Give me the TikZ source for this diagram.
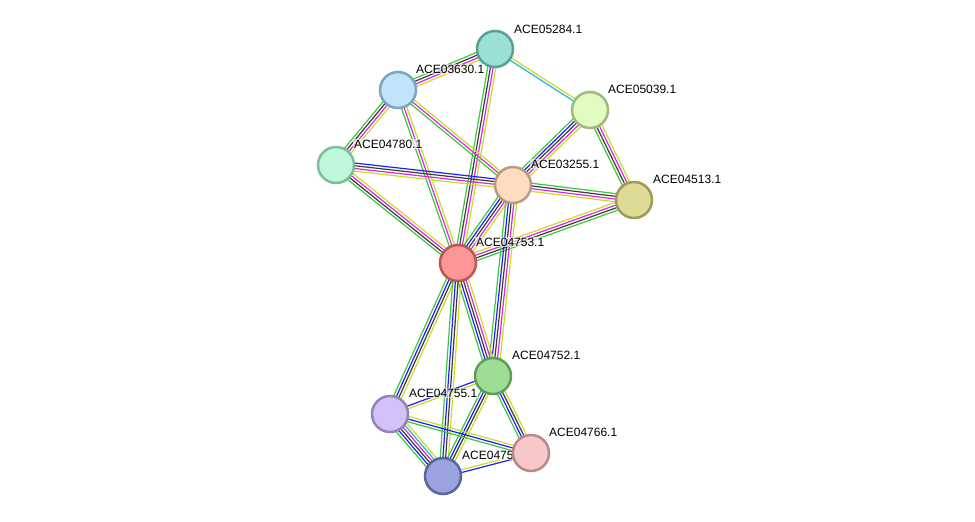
\documentclass[tikz,border=0pt]{standalone}
\usepackage{fontspec}
\newfontfamily\lblfont{Liberation Sans}
\usetikzlibrary{calc}

% evidence colours
\definecolor{neigh}{RGB}{60,200,60}
\definecolor{cooc}{RGB}{30,30,250}
\definecolor{coexp}{RGB}{60,60,60}
\definecolor{expt}{RGB}{220,40,220}
\definecolor{dbase}{RGB}{40,180,220}
\definecolor{tmine}{RGB}{200,220,40}

% one link = parallel lines, one per evidence colour
\newcommand{\evlink}[3]{%
  \xdef\nlines{0}%
  \foreach \c in {#3}{\xdef\nlines{\the\numexpr\nlines+1\relax}}%
  \foreach \c [count=\i] in {#3}{%
    \pgfmathsetmacro\off{(\i-(\nlines+1)/2)*2.7}%
    \draw[evidence, \c] ($(#1)!\off pt!90:(#2)$) -- ($(#2)!\off pt!-90:(#1)$);
  }%
}

\begin{document}
\begin{tikzpicture}[
    x=1pt, y=-1pt,
    prot/.style={circle, line width=2.5pt, minimum size=36pt, inner sep=0pt},
    evidence/.style={line width=1.2pt},
    lbl/.style={font=\lblfont\fontsize{12}{14}\selectfont, anchor=base west,
        fill=white, fill opacity=0.6, text opacity=1, inner sep=1pt}
]
\useasboundingbox[fill=white] (0,0) rectangle (975,522);

% -------------------------
% Proteins (positions only, drawn later on top)
% -------------------------
\coordinate (n05284) at (495,49);
\coordinate (n03630) at (398,90);
\coordinate (n05039) at (590,110);
\coordinate (n04780) at (336,165);
\coordinate (n03255) at (513,185);
\coordinate (n04513) at (634,200);
\coordinate (n04753) at (458,263);
\coordinate (n04752) at (493,376);
\coordinate (n04755) at (390,414);
\coordinate (n0475b) at (443,476);
\coordinate (n04766) at (531,453);

% -------------------------
% Links
% -------------------------
\evlink{n05284}{n03630}{neigh,coexp,expt,tmine}
\evlink{n05284}{n05039}{dbase,tmine}
\evlink{n05284}{n04753}{neigh,coexp,expt,tmine}
\evlink{n03630}{n04780}{neigh,coexp,expt,tmine}
\evlink{n03630}{n03255}{neigh,expt,tmine}
\evlink{n03630}{n04753}{neigh,expt,tmine}
\evlink{n04780}{n03255}{tmine,expt,coexp,cooc}
\evlink{n04780}{n04753}{neigh,coexp,expt,tmine}
\evlink{n05039}{n03255}{neigh,cooc,coexp,expt,tmine}
\evlink{n05039}{n04513}{neigh,coexp,expt,tmine}
\evlink{n03255}{n04513}{tmine,expt,coexp,neigh}
\evlink{n04513}{n04753}{tmine,expt,coexp,neigh}
\evlink{n03255}{n04753}{neigh,cooc,coexp,expt,tmine}
\evlink{n03255}{n04752}{neigh,cooc,coexp,expt,tmine}
\evlink{n04753}{n04752}{neigh,cooc,coexp,expt,tmine}
\evlink{n04753}{n04755}{neigh,cooc,coexp,tmine}
\evlink{n04753}{n0475b}{neigh,cooc,coexp,tmine}
\evlink{n04752}{n04755}{cooc,tmine}
\evlink{n04752}{n0475b}{neigh,cooc,coexp,tmine}
\evlink{n04752}{n04766}{neigh,cooc,coexp,tmine}
\evlink{n04755}{n0475b}{neigh,cooc,coexp,expt,dbase,tmine}
\evlink{n04755}{n04766}{neigh,cooc,tmine}
\evlink{n0475b}{n04766}{cooc,tmine}

% -------------------------
% Protein nodes
% -------------------------
\node[prot, fill={rgb,255:red,154;green,224;blue,214}, draw={rgb,255:red,90;green,158;blue,150}] (p05284) at (n05284) {};
\node[prot, fill={rgb,255:red,193;green,228;blue,250}, draw={rgb,255:red,125;green,166;blue,190}] (p03630) at (n03630) {};
\node[prot, fill={rgb,255:red,224;green,252;blue,192}, draw={rgb,255:red,160;green,186;blue,126}] (p05039) at (n05039) {};
\node[prot, fill={rgb,255:red,191;green,248;blue,219}, draw={rgb,255:red,125;green,190;blue,155}] (p04780) at (n04780) {};
\node[prot, fill={rgb,255:red,253;green,220;blue,192}, draw={rgb,255:red,185;green,155;blue,130}] (p03255) at (n03255) {};
\node[prot, fill={rgb,255:red,221;green,219;blue,150}, draw={rgb,255:red,157;green,155;blue,86}] (p04513) at (n04513) {};
\node[prot, fill={rgb,255:red,253;green,150;blue,150}, draw={rgb,255:red,185;green,86;blue,86}] (p04753) at (n04753) {};
\node[prot, fill={rgb,255:red,158;green,222;blue,148}, draw={rgb,255:red,95;green,158;blue,86}] (p04752) at (n04752) {};
\node[prot, fill={rgb,255:red,212;green,193;blue,252}, draw={rgb,255:red,148;green,131;blue,187}] (p04755) at (n04755) {};
\node[prot, fill={rgb,255:red,154;green,163;blue,221}, draw={rgb,255:red,90;green,100;blue,158}] (p0475b) at (n0475b) {};

% labels
\node[lbl] (l05284) at ($(n05284)+(18,-16)$) {ACE05284.1};
\node[lbl] (l03630) at ($(n03630)+(17,-17)$) {ACE03630.1};
\node[lbl] (l05039) at ($(n05039)+(17,-17)$) {ACE05039.1};
\node[lbl] (l04780) at ($(n04780)+(17,-17)$) {ACE04780.1};
\node[lbl] (l03255) at ($(n03255)+(17,-17)$) {ACE03255.1};
\node[lbl] (l04513) at ($(n04513)+(18,-17)$) {ACE04513.1};
\node[lbl] (l04753) at ($(n04753)+(17,-17)$) {ACE04753.1};
\node[lbl] (l04752) at ($(n04752)+(18,-17)$) {ACE04752.1};
\node[lbl] (l04755) at ($(n04755)+(18,-17)$) {ACE04755.1};
\node[lbl] (l0475b) at ($(n0475b)+(18,-17)$) {ACE0475};

% last node covers the end of the label above
\node[prot, fill={rgb,255:red,247;green,200;blue,200}, draw={rgb,255:red,185;green,136;blue,136}] (p04766) at (n04766) {};
\node[lbl] (l04766) at ($(n04766)+(17,-17)$) {ACE04766.1};

\end{tikzpicture}
\end{document}
